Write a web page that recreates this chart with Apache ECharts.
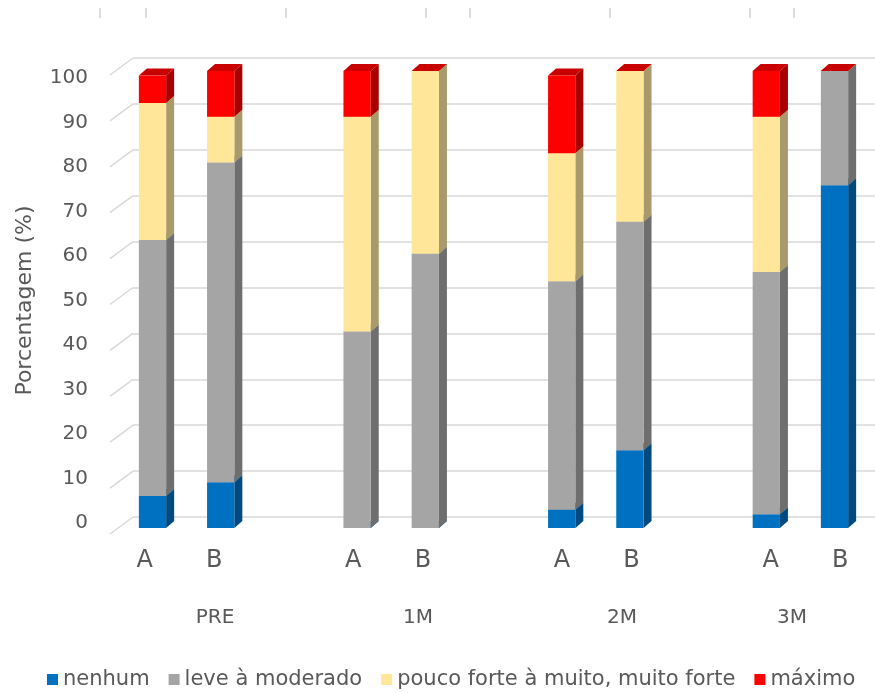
<!DOCTYPE html>
<html>
<head>
<meta charset="utf-8">
<script src="https://cdn.jsdelivr.net/npm/echarts@6/dist/echarts.min.js"></script>
<style>
  html, body { margin: 0; padding: 0; background: #ffffff; }
  #chart { width: 875px; height: 693px; }
</style>
</head>
<body>
<div id="chart"></div>
<script>
// Time points and treatment arms
const groups = ['PRE', '1M', '2M', '3M'];
const arms = ['A', 'B'];

// Percentage of patients per pain level, order: PRE A, PRE B, 1M A, 1M B, 2M A, 2M B, 3M A, 3M B
const nenhum = [7, 10, 0, 0, 4, 17, 3, 75];
const leve = [56, 70, 43, 60, 50, 50, 53, 25];
const pouco = [30, 10, 47, 40, 28, 33, 34, 0];
const maximo = [6, 10, 10, 0, 17, 0, 10, 0];

const seriesNames = ['nenhum', 'leve à moderado', 'pouco forte à muito, muito forte', 'máximo'];
const yTicks = [0, 10, 20, 30, 40, 50, 60, 70, 80, 90, 100];

// Face colours: front, side, top
const palette = [
  { front: '#0070C0', side: '#004A80', top: '#005A9C' },
  { front: '#A5A5A5', side: '#6E6E6E', top: '#8A8A8A' },
  { front: '#FFE699', side: '#A89A6A', top: '#D9C47F' },
  { front: '#FF0000', side: '#A80000', top: '#C80000' }
];

const FONT = '"DejaVu Sans", "Open Sans", sans-serif';
const TXT = '#595959';

// Category slots: two arms per time point, with an empty slot between time points
const slots = [];
const slotLabels = [];
groups.forEach((g, gi) => {
  arms.forEach(a => { slots.push(g + ' ' + a); slotLabels.push(a); });
  if (gi < groups.length - 1) { slots.push('gap' + gi); slotLabels.push(''); }
});
const slotOf = i => Math.floor(i / arms.length) * (arms.length + 1) + (i % arms.length);

// Stack the levels into [slot, base, top] boxes
const levels = [nenhum, leve, pouco, maximo];
const cum = new Array(nenhum.length).fill(0);
const boxes = levels.map(vals => vals.map((v, i) => {
  const b = cum[i];
  cum[i] += v;
  return [slotOf(i), b, cum[i]];
}));

const DX = 8, DY = -7; // bar depth

function renderBox(colors) {
  return function (params, api) {
    const x = api.value(0), b = api.value(1), t = api.value(2);
    const pb = api.coord([x, b]);
    const pt = api.coord([x, t]);
    const w = api.size([1, 0])[0] * 0.4;
    const xl = pb[0] - w / 2, xr = pb[0] + w / 2;
    const yb = pb[1], yt = pt[1];
    return {
      type: 'group',
      children: [
        { type: 'polygon', shape: { points: [[xr, yb], [xr + DX, yb + DY], [xr + DX, yt + DY], [xr, yt]] },
          style: { fill: colors.side } },
        { type: 'polygon', shape: { points: [[xl, yt], [xr, yt], [xr + DX, yt + DY], [xl + DX, yt + DY]] },
          style: { fill: colors.top } },
        { type: 'rect', shape: { x: xl, y: yt, width: w, height: yb - yt },
          style: { fill: colors.front } }
      ]
    };
  };
}

// Side wall lines joining the back wall gridlines to the front edge
function renderWall(params, api) {
  const p = api.coord([0, api.value(0)]);
  return {
    type: 'line',
    shape: { x1: p[0] - 23, y1: p[1] + 17, x2: p[0], y2: p[1] },
    style: { stroke: '#d9d9d9', lineWidth: 1.5 }
  };
}

const chart = echarts.init(document.getElementById('chart'), null, { renderer: 'canvas' });

// Short cut-off ticks along the top edge
const topTicks = [100, 146, 286, 426, 470, 610, 750, 794];
const groupLabelX = [215, 418, 622, 792];

const option = {
  backgroundColor: '#ffffff',
  animation: false,
  textStyle: { fontFamily: FONT },
  legend: {
    data: seriesNames,
    top: 664,
    left: 42,
    icon: 'rect',
    itemWidth: 11,
    itemHeight: 11,
    itemGap: 19,
    textStyle: { fontSize: 21, color: TXT, fontFamily: FONT }
  },
  grid: [
    { left: 118.4, right: 6.4, top: 71, bottom: 165 },   // bars
    { left: 133, right: 0, top: 58, bottom: 176 },       // back wall
    { left: 96, width: 10, top: 78, bottom: 170 },       // value labels
    { left: 109.85, right: -8.3, top: 300, bottom: 154 } // arm labels
  ],
  xAxis: [
    { type: 'category', gridIndex: 0, data: slots, show: false },
    { type: 'value', gridIndex: 1, min: 0, max: 1, show: false },
    { type: 'value', gridIndex: 2, min: 0, max: 1, show: false },
    { type: 'category', gridIndex: 3, data: slotLabels,
      axisLine: { show: false }, axisTick: { show: false },
      axisLabel: { fontSize: 24, color: TXT, fontFamily: FONT, margin: 10, interval: 0 } }
  ],
  yAxis: [
    { type: 'value', gridIndex: 0, min: 0, max: 100, interval: 10, show: false },
    { type: 'value', gridIndex: 1, min: 0, max: 100, interval: 10,
      axisLine: { show: false }, axisTick: { show: false }, axisLabel: { show: false },
      splitLine: { show: true, lineStyle: { color: '#d9d9d9', width: 1.5 } } },
    { type: 'value', gridIndex: 2, min: 0, max: 100, interval: 10,
      axisLine: { show: false }, axisTick: { show: false }, splitLine: { show: false },
      axisLabel: { fontSize: 20, color: TXT, fontFamily: FONT, margin: 8,
        formatter: v => yTicks.includes(v) ? String(v) : '' },
      name: 'Porcentagem (%)', nameLocation: 'middle', nameGap: 60,
      nameTextStyle: { fontSize: 22, color: TXT, fontFamily: FONT } },
    { type: 'value', gridIndex: 3, show: false }
  ],
  series: [
    { type: 'custom', xAxisIndex: 1, yAxisIndex: 1, renderItem: renderWall,
      data: yTicks.map(v => [v]), silent: true, z: 1 }
  ].concat(seriesNames.map((name, k) => ({
    type: 'custom',
    name: name,
    xAxisIndex: 0,
    yAxisIndex: 0,
    renderItem: renderBox(palette[k]),
    itemStyle: { color: palette[k].front },
    encode: { x: 0, y: [1, 2] },
    data: boxes[k],
    z: 2 + k
  }))),
  graphic: topTicks.map(x => ({
    type: 'line', shape: { x1: x, y1: 8, x2: x, y2: 18 },
    style: { stroke: '#d0d0d0', lineWidth: 1.5 }, silent: true
  })).concat(groups.map((g, i) => ({
    type: 'text', x: groupLabelX[i], y: 618,
    style: { text: g, fontSize: 20, fill: TXT, fontFamily: FONT, align: 'center', verticalAlign: 'middle' }
  })))
};

chart.setOption(option);
</script>
</body>
</html>
